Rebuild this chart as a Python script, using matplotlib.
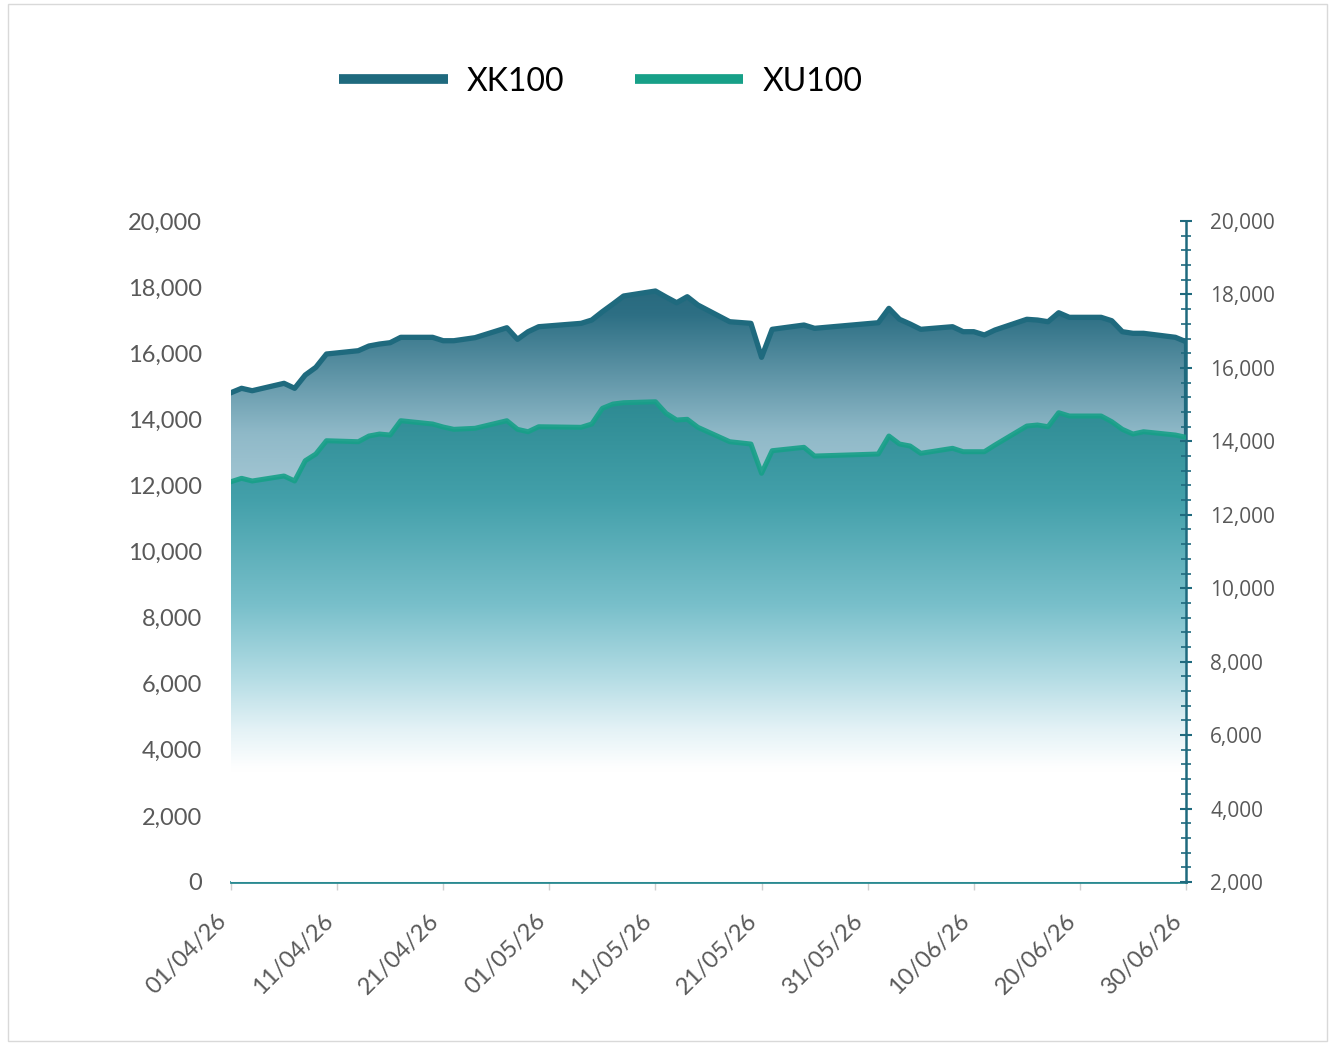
import matplotlib
matplotlib.use('Agg')
import matplotlib.pyplot as plt
import matplotlib.dates as mdates
import numpy as np
import pandas as pd
from matplotlib.colors import LinearSegmentedColormap
from matplotlib.lines import Line2D
from matplotlib.patches import Rectangle
from matplotlib.ticker import FuncFormatter, MultipleLocator

# trading days (holidays skipped: 23/04, 01/05, 19/05, 27-29/05)
dates = [
    '2026-04-01', '2026-04-02', '2026-04-03', '2026-04-06', '2026-04-07', '2026-04-08', '2026-04-09',
    '2026-04-10', '2026-04-13', '2026-04-14', '2026-04-15', '2026-04-16', '2026-04-17', '2026-04-20',
    '2026-04-21', '2026-04-22', '2026-04-24', '2026-04-27', '2026-04-28', '2026-04-29', '2026-04-30',
    '2026-05-04', '2026-05-05', '2026-05-06', '2026-05-07', '2026-05-08', '2026-05-11', '2026-05-12',
    '2026-05-13', '2026-05-14', '2026-05-15', '2026-05-18', '2026-05-20', '2026-05-21', '2026-05-22',
    '2026-05-25', '2026-05-26',
    '2026-06-01', '2026-06-02', '2026-06-03', '2026-06-04', '2026-06-05', '2026-06-08', '2026-06-09',
    '2026-06-10', '2026-06-11', '2026-06-12', '2026-06-15', '2026-06-16', '2026-06-17', '2026-06-18',
    '2026-06-19', '2026-06-22', '2026-06-23', '2026-06-24', '2026-06-25', '2026-06-26', '2026-06-29',
    '2026-06-30',
]

xk100 = [
    14805, 14938, 14865, 15089, 14938, 15340, 15573, 15976, 16076, 16218, 16278, 16318, 16481, 16481,
    16378, 16378, 16470, 16771, 16420, 16651, 16802,
    16904, 17004, 17256, 17489, 17731, 17882, 17700, 17528, 17710, 17458, 16953, 16904, 15876, 16723,
    16853, 16753,
    16923, 17358, 17026, 16883, 16723, 16802, 16651, 16651, 16551, 16702, 17026, 17004, 16953, 17225,
    17086, 17086, 16983, 16651, 16602, 16602, 16481, 16348,
]

# XU100 is on the secondary (right) axis
xu100 = [
    12901, 12993, 12920, 13056, 12920, 13472, 13655, 14017, 13990, 14145, 14199, 14172, 14562, 14472,
    14390, 14327, 14355, 14562, 14327, 14262, 14398,
    14382, 14472, 14899, 15016, 15052, 15079, 14763, 14581, 14600, 14382, 13990, 13927, 13129, 13745,
    13837, 13600,
    13655, 14145, 13927, 13873, 13674, 13810, 13718, 13718, 13718, 13900, 14417, 14445, 14398, 14780,
    14690, 14690, 14535, 14327, 14199, 14262, 14172, 14110,
]

xk_color = '#1f6a7e'
xu_color = '#17a088'
label_gray = '#595959'

x = mdates.date2num(pd.to_datetime(dates))

fig = plt.figure(figsize=(13.32, 10.45), dpi=100)
ax = fig.add_axes((0.1734, 0.156, 0.7170, 0.6325))
ax2 = ax.twinx()


def gradient_fill(axis, xs, ys, base, top, stops):
    poly = axis.fill_between(xs, ys, base, facecolor='none', edgecolor='none')
    cmap = LinearSegmentedColormap.from_list('g', stops)
    grad = np.linspace(0, 1, 256).reshape(-1, 1)
    img = axis.imshow(grad, cmap=cmap, aspect='auto', origin='lower',
                      extent=(xs[0], xs[-1], base, top), interpolation='bicubic', zorder=1)
    path = poly.get_paths()[0]
    img.set_clip_path(path, transform=axis.transData)


# XK100 area: dark top, light toward bottom
gradient_fill(ax, x, xk100, 0, 20000,
              [(0.0, '#ffffff'), (0.45, '#c6dde6'), (0.68, '#8fb9c8'), (0.86, '#2d6f84'), (1.0, '#1c5a6e')])
ax.plot(x, xk100, color=xk_color, lw=3.8, solid_joinstyle='round', zorder=3)
ax.vlines(x[-1], 0, xk100[-1], color=xk_color, lw=3, zorder=3)

# XU100 area: teal fading to white
gradient_fill(ax2, x, xu100, 2000, 20000,
              [(0.0, '#ffffff'), (0.17, '#ffffff'), (0.23, '#e4f2f6'), (0.31, '#b3dce4'),
               (0.42, '#78bfca'), (0.58, '#43a0aa'), (0.75, '#2a878f'), (1.0, '#24787f')])
ax2.plot(x, xu100, color=xu_color, lw=3.6, solid_joinstyle='round', zorder=3, alpha=0.9)

ax.set_xlim(x[0], x[-1])
ax.set_ylim(0, 20000)
ax2.set_ylim(2000, 20000)

fmt = FuncFormatter(lambda v, p: '{:,.0f}'.format(v))
ax.yaxis.set_major_locator(MultipleLocator(2000))
ax.yaxis.set_major_formatter(fmt)
ax2.yaxis.set_major_locator(MultipleLocator(2000))
ax2.yaxis.set_minor_locator(MultipleLocator(400))
ax2.yaxis.set_major_formatter(fmt)

ticks = [x[0] + 10 * i for i in range(10)]
ax.set_xticks(ticks)
ax.xaxis.set_major_formatter(mdates.DateFormatter('%d/%m/%y'))

ax.tick_params(axis='x', colors='#d0d0d0', length=6, width=1, labelcolor=label_gray,
               labelsize=17, pad=14)
ax.tick_params(axis='y', length=0, labelcolor=label_gray, labelsize=17, pad=21)
for lab in ax.get_xticklabels():
    lab.set_rotation(45)
    lab.set_ha('right')
    lab.set_va('top')
for lab in ax.get_xticklabels() + ax.get_yticklabels():
    lab.set_family('Lato')

ax2.tick_params(axis='y', which='major', direction='inout', length=9, width=1.5, color=xk_color,
                labelcolor=label_gray, labelsize=15, pad=13)
ax2.tick_params(axis='y', which='minor', direction='inout', length=7, width=1.2, color=xk_color)
for lab in ax2.get_yticklabels():
    lab.set_family('Open Sans')

for s in ['top', 'left', 'right']:
    ax.spines[s].set_visible(False)
ax.spines['bottom'].set_color('#2a8a91')
ax.spines['bottom'].set_linewidth(2)
ax.spines['bottom'].set_zorder(5)
for s in ['top', 'left', 'bottom']:
    ax2.spines[s].set_visible(False)
ax2.spines['right'].set_color(xk_color)
ax2.spines['right'].set_linewidth(1.8)

handles = [Line2D([], [], color=xk_color, lw=7, solid_capstyle='butt'),
           Line2D([], [], color=xu_color, lw=7, solid_capstyle='butt')]
fig.legend(handles, ['XK100', 'XU100'], loc='center', bbox_to_anchor=(0.451, 0.922), ncol=2,
           frameon=False, prop={'family': 'Lato', 'size': 23}, handlelength=3.4,
           handletextpad=0.6, columnspacing=2.2)

fig.patches.append(Rectangle((0.006, 0.004), 0.990, 0.992, transform=fig.transFigure,
                             fill=False, edgecolor='#d9d9d9', lw=1))

plt.savefig('out.png', dpi=100)
plt.close()
